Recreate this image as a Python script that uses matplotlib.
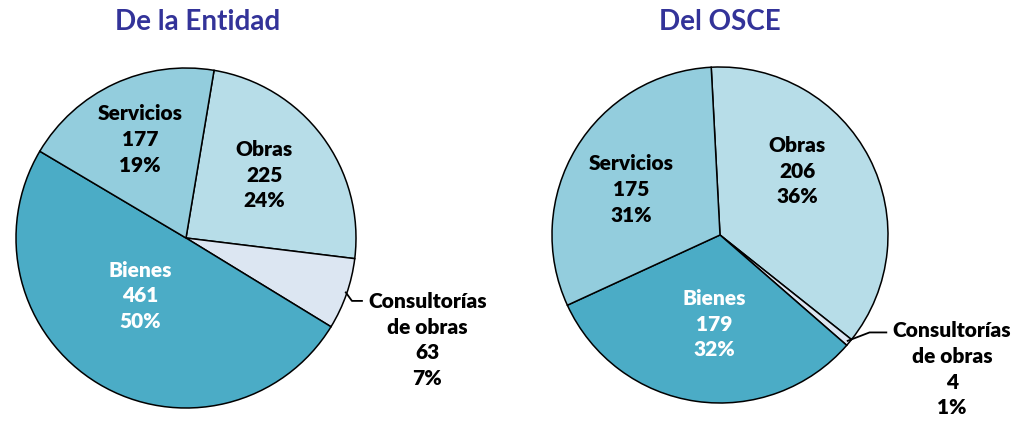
import matplotlib
matplotlib.use('Agg')
import matplotlib.pyplot as plt

plt.rcParams['font.family'] = ['Lato', 'DejaVu Sans']

categorias = ['Obras', 'Consultorías\nde obras', 'Bienes', 'Servicios']
entidad = [225, 63, 461, 177]
entidad_pct = [24, 7, 50, 19]
osce = [206, 4, 179, 175]
osce_pct = [36, 1, 32, 31]
colores = ['#B7DDE8', '#DCE6F2', '#4BACC6', '#93CDDD']
titulos = ['De la Entidad', 'Del OSCE']

W, H = 1017, 421
fig = plt.figure(figsize=(W / 100, H / 100), dpi=100)


def make_pie(cx, cy, r, valores, pcts, start, titulo, pos_labels, leader, tx_title):
    ax = fig.add_axes([(cx - r) / W, (H - cy - r) / H, 2 * r / W, 2 * r / H])
    ax.pie(valores, colors=colores, startangle=start, counterclock=False,
           radius=1, wedgeprops=dict(edgecolor='black', linewidth=1.1))
    ax.set_xlim(-1, 1)
    ax.set_ylim(-1, 1)
    ax.set_aspect('equal')
    ax.axis('off')
    for i, (nombre, v, pct) in enumerate(zip(categorias, valores, pcts)):
        col = 'white' if nombre == 'Bienes' else 'black'
        x, y = pos_labels[i]
        ax.text(x, y, '%s\n%d\n%d%%' % (nombre, v, pct), ha='center', va='center',
                fontsize=15, fontweight='heavy', color=col, linespacing=1.42)
    ax.plot(leader[0], leader[1], color='black', lw=1.3, clip_on=False)
    fig.text(tx_title / W, 1 - 22 / H, titulo, ha='center', va='center',
             fontsize=20, fontweight='bold', color='#333399')


make_pie(186, 238, 170, entidad, entidad_pct, 80.5, titulos[0],
         [(0.46, 0.37), (1.42, -0.60), (-0.27, -0.34), (-0.27, 0.58)],
         ([0.94, 0.976, 1.035], [-0.32, -0.37, -0.37]), 198)
make_pie(720, 235, 168, osce, osce_pct, 93, titulos[1],
         [(0.46, 0.38), (1.38, -0.80), (-0.035, -0.53), (-0.53, 0.27)],
         ([0.76, 0.89, 0.99], [-0.63, -0.58, -0.58]), 720)

fig.savefig('out.png', dpi=100)
